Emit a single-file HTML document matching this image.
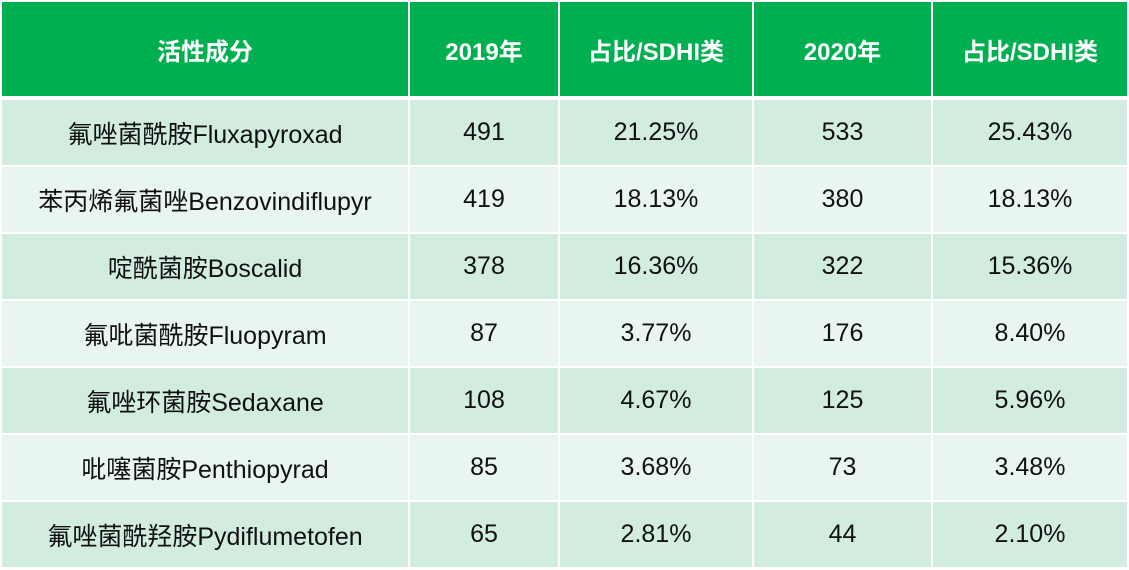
<!DOCTYPE html>
<html><head><meta charset="utf-8"><style>
html,body{margin:0;padding:0;background:#fff;}
#t{position:relative;width:1129px;height:570px;overflow:hidden;font-family:"Liberation Sans","Noto Sans CJK SC",sans-serif;}
.c{position:absolute;display:flex;align-items:center;justify-content:center;font-size:25px;color:#111;white-space:nowrap;}
.h{background:#00b050;color:#fff;font-weight:bold;font-size:24px;}
.o{background:#d2ece0;}
.e{background:#e9f5ef;}
</style></head><body>
<div id="t"></div>
<script>
const headers=["活性成分","2019年","占比/SDHI类","2020年","占比/SDHI类"];
const names=["氟唑菌酰胺Fluxapyroxad","苯丙烯氟菌唑Benzovindiflupyr","啶酰菌胺Boscalid","氟吡菌酰胺Fluopyram","氟唑环菌胺Sedaxane","吡噻菌胺Penthiopyrad","氟唑菌酰羟胺Pydiflumetofen"];
const v2019=["491","419","378","87","108","85","65"];
const p2019=["21.25%","18.13%","16.36%","3.77%","4.67%","3.68%","2.81%"];
const v2020=["533","380","322","176","125","73","44"];
const p2020=["25.43%","18.13%","15.36%","8.40%","5.96%","3.48%","2.10%"];
const cols=[[2,406],[410,148],[560,192],[754,177],[933,194]];
const t=document.getElementById('t');
function cell(x,w,y,h,cls,txt,name){
  const d=document.createElement('div');
  d.className='c '+cls;
  d.style.left=x+'px';d.style.top=y+'px';d.style.width=w+'px';d.style.height=h+'px';
  d.textContent=txt;
  
  
  t.appendChild(d);
}
headers.forEach((h,i)=>cell(cols[i][0],cols[i][1],2,94,'h',h,'header-cell'));
for(let r=0;r<names.length;r++){
  const y=100+r*67, cls=r%2===0?'o':'e';
  const vals=[names[r],v2019[r],p2019[r],v2020[r],p2020[r]];
  vals.forEach((v,i)=>cell(cols[i][0],cols[i][1],y,65,cls,v,'table-cell'));
}
</script>
</body></html>
